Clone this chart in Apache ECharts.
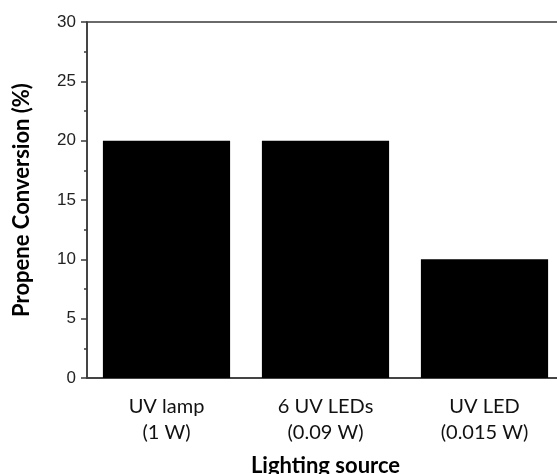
<!DOCTYPE html>
<html>
<head>
<meta charset="utf-8">
<script src="https://cdn.jsdelivr.net/npm/echarts@6/dist/echarts.min.js"></script>
<style>html,body{margin:0;padding:0;background:#fff;}#c{width:557px;height:474px;}</style>
</head>
<body>
<div id="c"></div>
<script>
const categories = ['UV lamp\n(1 W)', '6 UV LEDs\n(0.09 W)', 'UV LED\n(0.015 W)'];
const conversion = [20, 20, 10];
const yTicks = { min: 0, max: 30, interval: 5 };

const chart = echarts.init(document.getElementById('c'));
const axisColor = '#3a3a3a';
chart.setOption({
  animation: false,
  grid: { left: 87, top: 22, width: 477, height: 356, show: true, borderColor: axisColor, borderWidth: 1.5, backgroundColor: 'transparent', containLabel: false, outerBoundsMode: 'none' },
  xAxis: [{
    type: 'category',
    data: categories,
    name: 'Lighting source',
    nameLocation: 'middle',
    nameGap: 77,
    nameTextStyle: { fontFamily: 'Lato', fontWeight: 'bold', fontSize: 22, color: '#000' },
    axisLine: { lineStyle: { color: axisColor, width: 1.5 } },
    axisTick: { alignWithLabel: true, length: 6, lineStyle: { color: axisColor, width: 1.5 } },
    axisLabel: { fontFamily: 'Lato', fontSize: 20, color: '#111', lineHeight: 26, margin: 16 },
    splitLine: { show: false }
  }, {
    type: 'category',
    data: categories,
    position: 'bottom',
    axisLine: { show: false },
    axisTick: { length: 3, lineStyle: { color: axisColor, width: 1.5 } },
    axisLabel: { show: false },
    splitLine: { show: false }
  }],
  yAxis: {
    type: 'value',
    min: yTicks.min, max: yTicks.max, interval: yTicks.interval,
    name: 'Propene Conversion (%)',
    nameLocation: 'middle',
    nameGap: 54,
    nameTextStyle: { fontFamily: 'Lato', fontWeight: 'bold', fontSize: 22, color: '#000' },
    axisLine: { show: true, lineStyle: { color: axisColor, width: 1.5 } },
    axisTick: { show: true, length: 6, lineStyle: { color: axisColor, width: 1.5 } },
    minorTick: { show: true, splitNumber: 2, length: 3, lineStyle: { color: axisColor, width: 1.5 } },
    axisLabel: { fontFamily: 'Liberation Sans', fontSize: 17, color: '#222', margin: 11 },
    splitLine: { show: false }
  },
  series: [{
    type: 'bar',
    data: conversion,
    barCategoryGap: '20%',
    itemStyle: { color: '#000' }
  }]
});
</script>
</body>
</html>
